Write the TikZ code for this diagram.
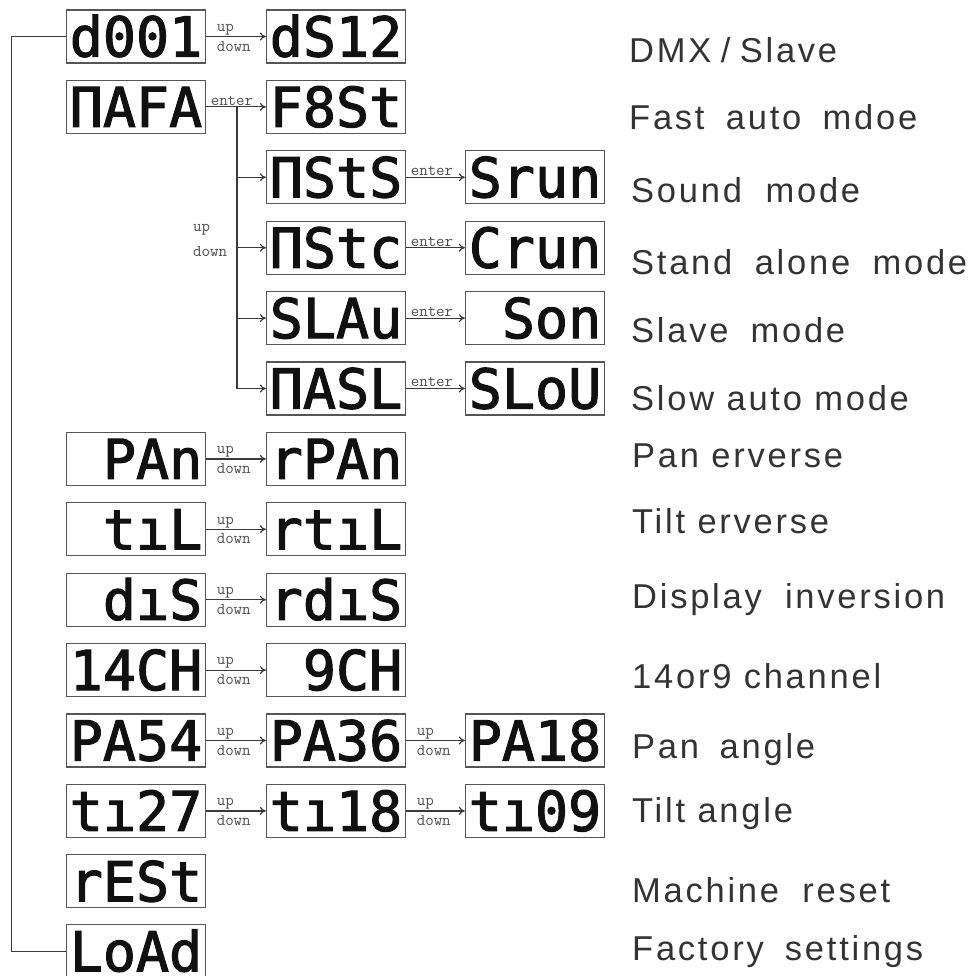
\documentclass[tikz,border=0pt]{standalone}
\usepackage{fontspec}
\setmainfont{Liberation Sans}
\newfontfamily\lblfont[LetterSpace=8]{Liberation Sans}
\newfontfamily\segfont[FakeBold=2]{DejaVu Sans Mono}
\usetikzlibrary{arrows.meta}
\definecolor{boxc}{HTML}{555555}
\definecolor{linec}{HTML}{3A3A3A}
\definecolor{txtc}{HTML}{333333}
\definecolor{tagc}{HTML}{505050}
\definecolor{segc}{HTML}{111111}
\newcommand\gap{\phantom{0}}
\tikzset{
  lcd/.style={draw=boxc, line width=1.3pt, minimum width=139pt, minimum height=53pt,
    inner sep=0pt, text height=40pt, text depth=0pt, text=segc,
    font=\segfont\fontsize{55}{55}\selectfont},
  lbl/.style={anchor=base west, inner sep=0pt, text=txtc,
    font=\lblfont\fontsize{34.5}{40}\selectfont},
  conn/.style={draw=linec, line width=1.2pt, -{To[length=6pt,width=8pt]}},
  wire/.style={draw=linec, line width=1.2pt},
  tag/.style={font=\ttfamily\fontsize{16.5}{16.5}\selectfont, text=tagc, inner sep=1pt},
  uptag/.style={tag, pos=0, anchor=south west, xshift=9pt},
  dntag/.style={tag, pos=0, anchor=north west, xshift=9pt, yshift=-3pt},
  entag/.style={tag, pos=0, anchor=south west, xshift=3pt},
}
\begin{document}
\begin{tikzpicture}[x=1pt,y=-1pt]
\useasboundingbox (0,0) rectangle (975,976);
% column 1
\node[lcd] (a1)  at (136,36.5)  {d001};
\node[lcd] (a2)  at (136,106.9) {ΠAFA};
\node[lcd] (a7)  at (136,458.9) {\gap PAn};
\node[lcd] (a8)  at (136,529.3) {\gap tıL};
\node[lcd] (a9)  at (136,599.7) {\gap dıS};
\node[lcd] (a10) at (136,670.1) {14CH};
\node[lcd] (a11) at (136,740.5) {PA54};
\node[lcd] (a12) at (136,810.9) {tı27};
\node[lcd] (a13) at (136,881.3) {rESt};
\node[lcd] (a14) at (136,951.2) {LoAd};
% column 2
\node[lcd] (b1)  at (336,36.5)  {dS12};
\node[lcd] (b2)  at (336,106.9) {F8St};
\node[lcd] (b3)  at (336,177.3) {ΠStS};
\node[lcd] (b4)  at (336,247.7) {ΠStc};
\node[lcd] (b5)  at (336,318.1) {SLAu};
\node[lcd] (b6)  at (336,388.5) {ΠASL};
\node[lcd] (b7)  at (336,458.9) {rPAn};
\node[lcd] (b8)  at (336,529.3) {rtıL};
\node[lcd] (b9)  at (336,599.7) {rdıS};
\node[lcd] (b10) at (336,670.1) {\gap 9CH};
\node[lcd] (b11) at (336,740.5) {PA36};
\node[lcd] (b12) at (336,810.9) {tı18};
% column 3
\node[lcd] (c3)  at (535,177.3) {Srun};
\node[lcd] (c4)  at (535,247.7) {Crun};
\node[lcd] (c5)  at (535,318.1) {\gap Son};
\node[lcd] (c6)  at (535,388.5) {SLoU};
\node[lcd] (c11) at (535,740.5) {PA18};
\node[lcd] (c12) at (535,810.9) {tı09};
% labels
\node[lbl] (l1)  at (629,63)  {\makebox[208pt][s]{DMX / Slave}};
\node[lbl] (l2)  at (629,130) {\makebox[288pt][s]{Fast auto mdoe}};
\node[lbl] (l3)  at (631,203) {\makebox[229pt][s]{Sound mode}};
\node[lbl] (l4)  at (631,274) {\makebox[336pt][s]{Stand alone mode}};
\node[lbl] (l5)  at (631,342) {\makebox[214pt][s]{Slave mode}};
\node[lbl] (l6)  at (631,410) {Slow auto mode};
\node[lbl] (l7)  at (632,467) {Pan erverse};
\node[lbl] (l8)  at (632,533) {Tilt erverse};
\node[lbl] (l9)  at (632,608) {\makebox[313pt][s]{Display inversion}};
\node[lbl] (l10) at (632,688) {14or9 channel};
\node[lbl] (l11) at (632,758) {\makebox[183pt][s]{Pan angle}};
\node[lbl] (l12) at (632,822) {Tilt angle};
\node[lbl] (l13) at (632,902) {\makebox[258pt][s]{Machine reset}};
\node[lbl] (l14) at (632,960) {\makebox[291pt][s]{Factory settings}};
% up/down connectors
\foreach \r in {1,7,8,9,10,11,12}{
  \draw[conn] (a\r) -- (b\r) node[uptag]{up} node[dntag]{down};
}
\foreach \r in {11,12}{
  \draw[conn] (b\r) -- (c\r) node[uptag]{up} node[dntag]{down};
}
% enter connectors
\draw[conn] (a2) -- (b2) node[entag]{enter};
\foreach \r in {3,4,5,6}{
  \draw[conn] (b\r) -- (c\r) node[entag]{enter};
}
% branch
\coordinate (br) at (237,106.9);
\foreach \r in {3,4,5,6}{
  \draw[conn] (br) |- (b\r);
}
\node[tag, anchor=base west] (bu) at (192,232) {up};
\node[tag, anchor=base west] (bd) at (192,256) {down};
% outer bracket
\draw[wire] (a1.west) -- ++(-54,0) |- (a14.west);
\end{tikzpicture}
\end{document}
